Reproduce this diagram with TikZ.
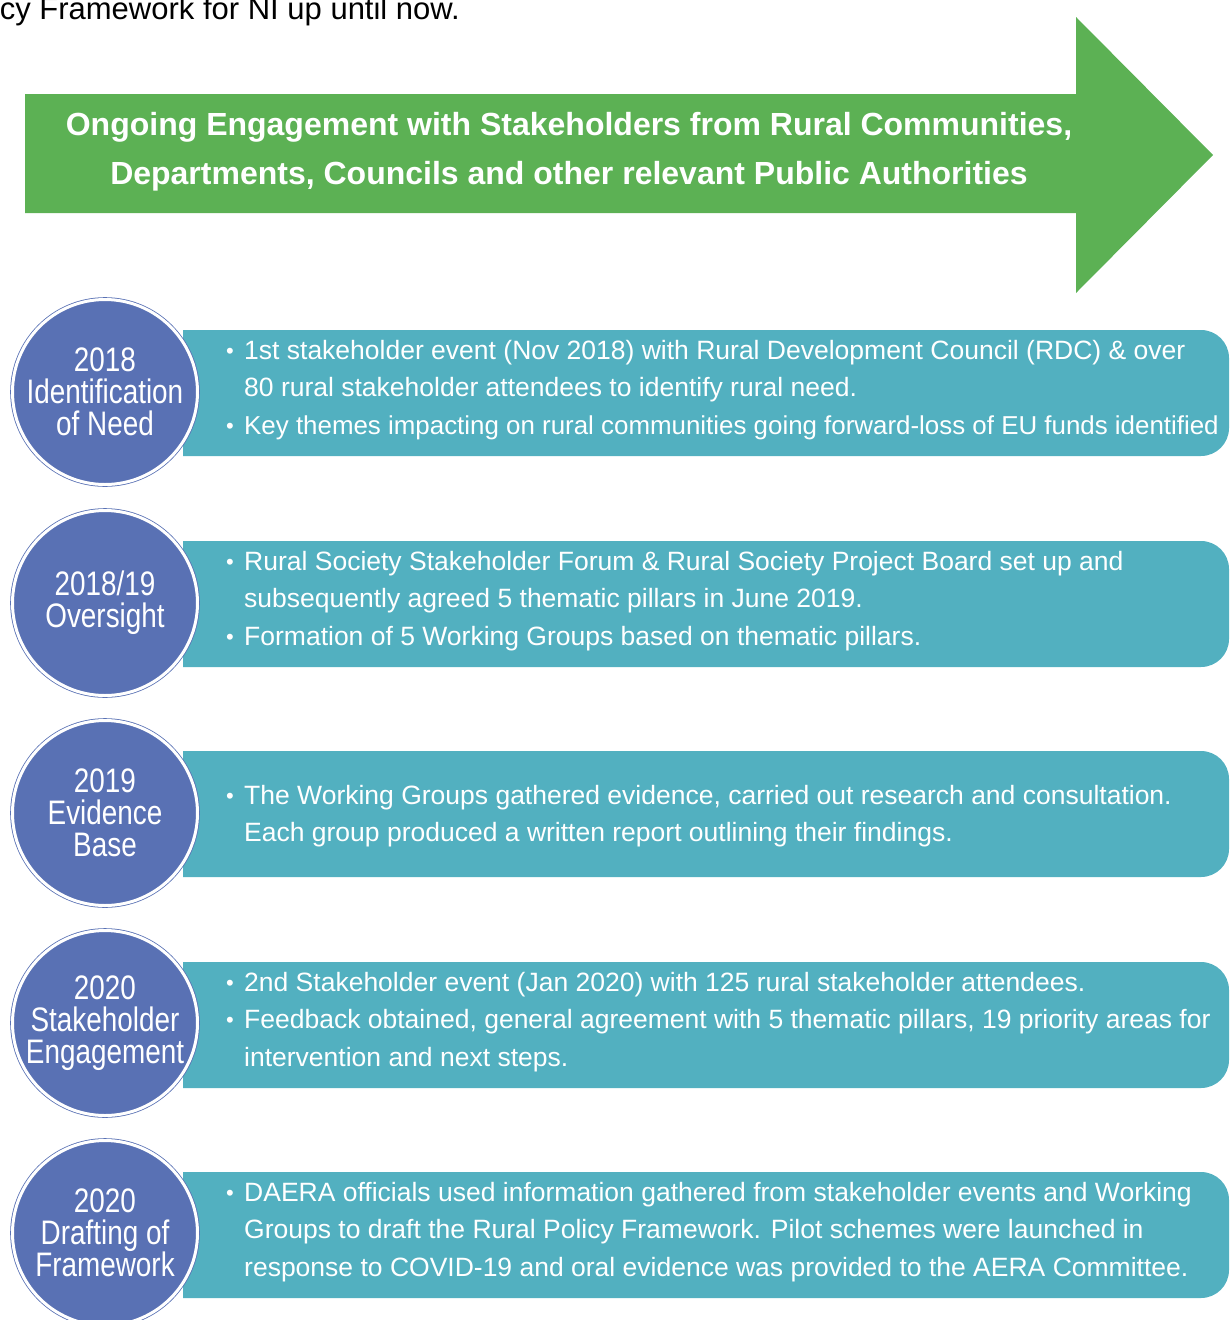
\documentclass[tikz,border=0pt]{standalone}
\usepackage{fontspec}
\setmainfont{Liberation Sans}
\newfontfamily\narrowfont[FakeStretch=0.82]{Liberation Sans}

\definecolor{arrowgreen}{RGB}{92,177,84}
\definecolor{bandteal}{RGB}{82,176,192}
\definecolor{stageblue}{RGB}{89,113,180}

\newcommand{\bul}{\makebox[18pt][l]{\raisebox{1pt}{\fontsize{22}{22}\selectfont •}}}
\newcommand{\ind}{\hspace*{18pt}}

\tikzset{
  stage/.style={circle, fill=stageblue, draw=stageblue, double=white, double distance=3pt,
    line width=0.8pt, minimum size=185pt, inner sep=0pt, text=white, align=center,
    font=\narrowfont\fontsize{34}{32}\selectfont},
  band/.style={fill=bandteal},
  notes/.style={anchor=west, inner sep=0pt, text=white, align=left,
    font=\fontsize{26.5}{37.5}\selectfont},
  header/.style={inner sep=0pt, text=white, align=center,
    font=\bfseries\fontsize{32}{49}\selectfont},
}

\begin{document}
\begin{tikzpicture}[x=1pt, y=-1pt]
  \useasboundingbox (0,0) rectangle (1231,1320);
  \clip (0,0) rectangle (1231,1320);

  \node[anchor=base east, inner sep=0pt, font=\fontsize{31}{31}\selectfont] (intro) at (460,19) {cy Framework for NI up until now.};

  % engagement arrow
  \fill[arrowgreen] (25,94) -- (1076,94) -- (1076,17) -- (1213,155) -- (1076,293) -- (1076,213) -- (25,213) -- cycle;
  \node[header] (engage) at (569,152) {Ongoing Engagement with Stakeholders from Rural Communities,\\ Departments, Councils and other relevant Public Authorities};

  % bands
  \fill[band] (183,330) -- (1201,330) arc[start angle=-90, end angle=0, radius=28] -- (1229,428) arc[start angle=0, end angle=90, radius=28] -- (183,456) -- cycle;
  \fill[band] (183,541) -- (1201,541) arc[start angle=-90, end angle=0, radius=28] -- (1229,639) arc[start angle=0, end angle=90, radius=28] -- (183,667) -- cycle;
  \fill[band] (183,751) -- (1201,751) arc[start angle=-90, end angle=0, radius=28] -- (1229,849) arc[start angle=0, end angle=90, radius=28] -- (183,877) -- cycle;
  \fill[band] (183,962) -- (1201,962) arc[start angle=-90, end angle=0, radius=28] -- (1229,1060) arc[start angle=0, end angle=90, radius=28] -- (183,1088) -- cycle;
  \fill[band] (183,1172) -- (1201,1172) arc[start angle=-90, end angle=0, radius=28] -- (1229,1270) arc[start angle=0, end angle=90, radius=28] -- (183,1298) -- cycle;

  % stages
  \node[stage] (need) at (105,392) {2018\\ Identification\\ of Need};
  \node[stage] (oversight) at (105,603) {2018/19\\ Oversight};
  \node[stage] (evidence) at (105,813) {2019\\ Evidence\\ Base};
  \node[stage] (engagement) at (105,1023) {2020\\ Stakeholder\\ Engagement};
  \node[stage] (drafting) at (105,1233) {2020\\ Drafting of\\ Framework};

  % notes
  \node[notes] (needtxt) at (226,390) {\bul 1st stakeholder event (Nov 2018) with Rural Development Council (RDC) \& over\\ \ind 80 rural stakeholder attendees to identify rural need.\\ \bul {\fontsize{25.9}{37.5}\selectfont Key themes impacting on rural communities going forward-loss of EU funds identified}};
  \node[notes] (oversighttxt) at (226,601) {\bul Rural Society Stakeholder Forum \& Rural Society Project Board set up and\\ \ind subsequently agreed 5 thematic pillars in June 2019.\\ \bul Formation of 5 Working Groups based on thematic pillars.};
  \node[notes] (evidencetxt) at (226,816) {\bul The Working Groups gathered evidence, carried out research and consultation.\\ \ind Each group produced a written report outlining their findings.};
  \node[notes] (engagementtxt) at (226,1022) {\bul 2nd Stakeholder event (Jan 2020) with 125 rural stakeholder attendees.\\ \bul Feedback obtained, general agreement with 5 thematic pillars, 19 priority areas for\\ \ind intervention and next steps.};
  \node[notes] (draftingtxt) at (226,1232) {\bul DAERA officials used information gathered from stakeholder events and Working\\ \ind Groups to draft the Rural Policy Framework. Pilot schemes were launched in\\ \ind response to COVID-19 and oral evidence was provided to the AERA Committee.};
\end{tikzpicture}
\end{document}
